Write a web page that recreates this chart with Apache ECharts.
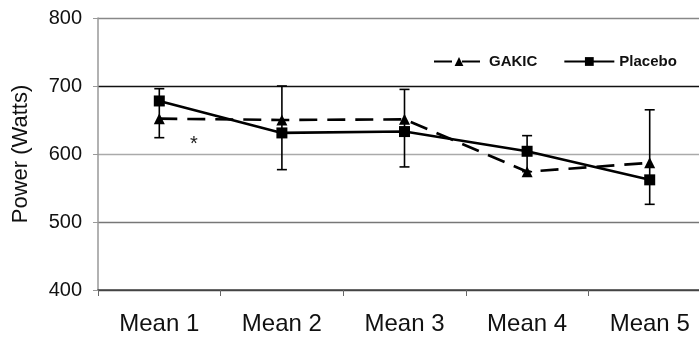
<!DOCTYPE html>
<html>
<head>
<meta charset="utf-8">
<script src="https://cdn.jsdelivr.net/npm/echarts@6/dist/echarts.min.js"></script>
<style>html,body{margin:0;padding:0;background:#fff;}#c{width:699px;height:342px;}</style>
</head>
<body>
<div id="c"></div>
<script>
const categories = ['Mean 1', 'Mean 2', 'Mean 3', 'Mean 4', 'Mean 5'];
const gakic = [652, 650, 651, 574, 587];
const placebo = [678, 631, 633, 604, 562];
const errLow = [624, 577, 581, 574, 526];
const errHigh = [696, 700, 695, 627, 665];
const yTicks = [400, 500, 600, 700, 800];

const chart = echarts.init(document.getElementById('c'), null, {renderer: 'canvas'});
const font = 'Arial, "Liberation Sans", sans-serif';

const option = {
  animation: false,
  backgroundColor: '#fff',
  grid: {left: 98, top: 18, width: 613, height: 272, containLabel: false, outerBoundsMode: 'none'},
  legend: {
    left: 428, top: 49, itemWidth: 50, itemHeight: 11, itemGap: 26,
    textStyle: {fontFamily: font, fontWeight: 'bold', fontSize: 15, color: '#111'},
    data: ['GAKIC', 'Placebo']
  },
  xAxis: {
    type: 'category', data: categories, boundaryGap: true,
    axisLine: {show: true, lineStyle: {color: '#444', width: 1.5}},
    axisTick: {show: true, length: 6, lineStyle: {color: '#666'}},
    axisLabel: {fontFamily: font, fontSize: 24, color: '#111', margin: 22}
  },
  yAxis: {
    type: 'value', min: yTicks[0], max: yTicks[yTicks.length - 1], interval: 100,
    name: 'Power (Watts)', nameLocation: 'middle', nameGap: 66, nameRotate: 90,
    nameTextStyle: {fontFamily: font, fontSize: 22, color: '#111'},
    axisLine: {show: true, lineStyle: {color: '#999', width: 1.5}},
    axisTick: {show: true, length: 5, lineStyle: {color: '#999'}},
    axisLabel: {fontFamily: font, fontSize: 20, color: '#111', margin: 16},
    splitLine: {show: true, lineStyle: {color: ['#444', '#777', '#aaa', '#111', '#888'], width: 1.3}}
  },
  series: [
    {
      type: 'custom', name: 'err', silent: true, z: 3,
      data: categories.map((c, i) => [i, errLow[i], errHigh[i]]),
      renderItem: function (params, api) {
        const lo = api.coord([api.value(0), api.value(1)]);
        const hi = api.coord([api.value(0), api.value(2)]);
        const cap = 5;
        const style = {stroke: '#000', lineWidth: 1.6};
        return {type: 'group', children: [
          {type: 'line', shape: {x1: lo[0], y1: lo[1], x2: hi[0], y2: hi[1]}, style},
          {type: 'line', shape: {x1: lo[0] - cap, y1: lo[1], x2: lo[0] + cap, y2: lo[1]}, style},
          {type: 'line', shape: {x1: hi[0] - cap, y1: hi[1], x2: hi[0] + cap, y2: hi[1]}, style}
        ]};
      }
    },
    {
      type: 'line', name: 'GAKIC', data: gakic, z: 4,
      symbol: 'triangle', symbolSize: 11,
      itemStyle: {color: '#000'},
      lineStyle: {color: '#000', width: 2.6, type: [18, 10]}
    },
    {
      type: 'line', name: 'Placebo', data: placebo, z: 5,
      symbol: 'rect', symbolSize: 11,
      itemStyle: {color: '#000'},
      lineStyle: {color: '#000', width: 2.6, type: 'solid'}
    }
  ],
  graphic: [
    {type: 'text', left: 190, top: 134, style: {text: '*', fontFamily: font, fontSize: 20, fill: '#222'}}
  ]
};
chart.setOption(option);
</script>
</body>
</html>
